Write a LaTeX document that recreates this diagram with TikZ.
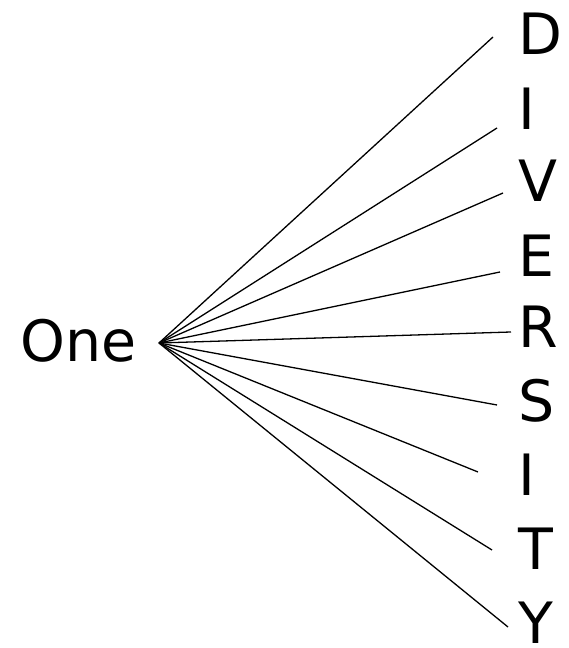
\documentclass[tikz,border=0pt]{standalone}
\usepackage{fontspec}
\setmainfont{DejaVu Sans}
\begin{document}
\begin{tikzpicture}[x=1pt,y=1pt,
  lbl/.style={font=\fontsize{57}{60}\selectfont, inner sep=0pt, anchor=base west},
  ray/.style={line width=1.3pt, black}]
\useasboundingbox (0,0) rectangle (568,648);
\node[lbl] (one) at (20,{648-362}) {One};
\coordinate (apex) at (159,{648-343});
\node[lbl] (d) at (518,{648-55}) {D};
\node[lbl] (i1) at (518,{648-130}) {I};
\node[lbl] (v) at (518,{648-202}) {V};
\node[lbl] (e) at (518,{648-277}) {E};
\node[lbl] (r) at (518,{648-348}) {R};
\node[lbl] (s) at (518,{648-422}) {S};
\node[lbl] (i2) at (518,{648-496}) {I};
\node[lbl] (t) at (518,{648-570}) {T};
\node[lbl] (y) at (518,{648-643}) {Y};
\coordinate (ed) at (493,{648-37});
\coordinate (ei1) at (497,{648-128});
\coordinate (ev) at (503,{648-193});
\coordinate (ee) at (500,{648-272});
\coordinate (er) at (511,{648-332});
\coordinate (es) at (497,{648-405});
\coordinate (ei2) at (478,{648-472});
\coordinate (et) at (492,{648-550});
\coordinate (ey) at (508,{648-627});
\foreach \c in {ed,ei1,ev,ee,er,es,ei2,et,ey}
  \draw[ray] (apex) -- (\c);
\end{tikzpicture}
\end{document}
